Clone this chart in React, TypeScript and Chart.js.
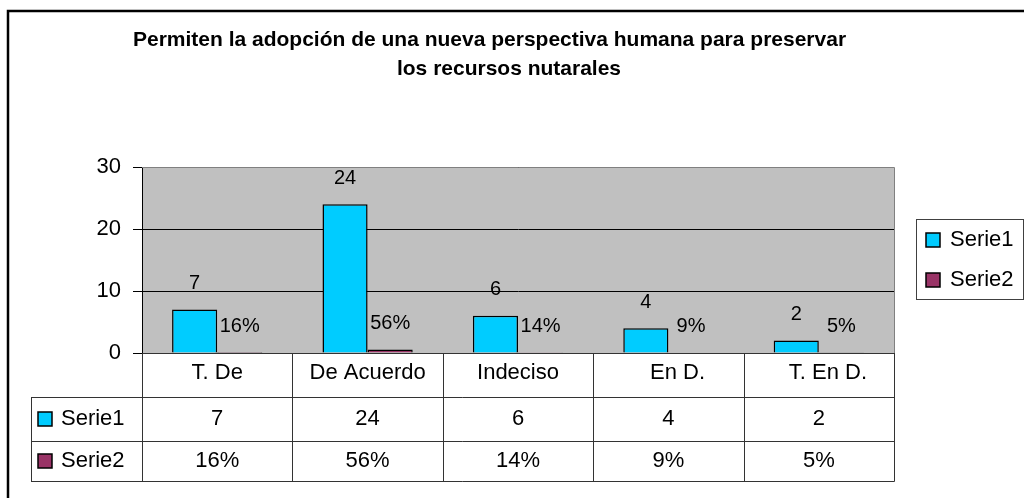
import React, { useEffect, useRef } from "react";
import { Chart, registerables } from "chart.js";

Chart.register(...registerables);

const categories = ["T. De", "De Acuerdo", "Indeciso", "   En D.", "   T. En D."];
const serie1 = [7, 24, 6, 4, 2];
const serie2 = [0.16, 0.56, 0.14, 0.09, 0.05];
const seriesNames = ["Serie1", "Serie2"];
const titleLines = [
  "Permiten la adopción de una nueva perspectiva humana para preservar",
  "los recursos nutarales",
];
const yMin = 0;
const yMax = 30;
const yStep = 10;

const COLORS = ["#00CCFF", "#993366"];
const FONT = '"Liberation Sans", Arial, sans-serif';

const pct = (v: number) => `${Math.round(v * 100)}%`;
const labelFor = (ds: number, i: number) => (ds === 0 ? String(serie1[i]) : pct(serie2[i]));

const decor = {
  id: "decor",
  beforeDraw(chart: any) {
    const { ctx, chartArea: a, width, height } = chart;
    ctx.save();
    ctx.fillStyle = "#ffffff";
    ctx.fillRect(0, 0, width, height);
    ctx.fillStyle = "#C0C0C0";
    ctx.fillRect(a.left, a.top, a.right - a.left, a.bottom - a.top);
    ctx.restore();
  },
  afterDatasetsDraw(chart: any) {
    const { ctx } = chart;
    ctx.save();
    ctx.font = `20px ${FONT}`;
    ctx.fillStyle = "#000";
    ctx.textAlign = "center";
    ctx.textBaseline = "middle";
    chart.data.datasets.forEach((_: any, d: number) => {
      const meta = chart.getDatasetMeta(d);
      meta.data.forEach((el: any, i: number) => {
        ctx.fillText(labelFor(d, i), el.x, el.y - 26);
      });
    });
    ctx.restore();
  },
  afterDraw(chart: any) {
    const { ctx, chartArea: a } = chart;
    ctx.save();
    // plot border (top & right)
    ctx.strokeStyle = "#808080";
    ctx.lineWidth = 1;
    ctx.beginPath();
    ctx.moveTo(a.left, a.top + 0.5);
    ctx.lineTo(a.right + 0.5, a.top + 0.5);
    ctx.lineTo(a.right + 0.5, a.bottom);
    ctx.stroke();

    // outer border
    ctx.strokeStyle = "#000";
    ctx.lineWidth = 2.5;
    ctx.strokeRect(8, 11, 1100, 600);

    // title
    ctx.fillStyle = "#000";
    ctx.font = `bold 21px ${FONT}`;
    ctx.textAlign = "center";
    ctx.textBaseline = "alphabetic";
    ctx.fillText(titleLines[0], 489.5, 45.5);
    ctx.fillText(titleLines[1], 509, 74.5);

    // legend
    ctx.fillStyle = "#fff";
    ctx.fillRect(916, 219, 107, 80);
    ctx.strokeStyle = "#404040";
    ctx.lineWidth = 1;
    ctx.strokeRect(916.5, 219.5, 107, 80);
    ctx.font = `22px ${FONT}`;
    ctx.textAlign = "left";
    ctx.textBaseline = "middle";
    seriesNames.forEach((n, i) => {
      const cy = 240 + i * 40;
      ctx.fillStyle = COLORS[i];
      ctx.fillRect(926, cy - 7, 14, 14);
      ctx.strokeStyle = "#000";
      ctx.lineWidth = 1.5;
      ctx.strokeRect(926, cy - 7, 14, 14);
      ctx.fillStyle = "#000";
      ctx.fillText(n, 950, cy);
    });

    // data table
    const n = categories.length;
    const colW = (a.right - a.left) / n;
    const rowTop = a.bottom;
    const r1 = rowTop + 44;
    const r2 = r1 + 44;
    const r3 = r2 + 40;
    const tableLeft = 31;
    ctx.strokeStyle = "#333";
    ctx.lineWidth = 1;
    ctx.beginPath();
    // horizontals
    [r1, r2, r3].forEach((y) => {
      ctx.moveTo(tableLeft, Math.round(y) + 0.5);
      ctx.lineTo(a.right + 0.5, Math.round(y) + 0.5);
    });
    ctx.moveTo(a.left, Math.round(rowTop) + 0.5);
    ctx.lineTo(a.right + 0.5, Math.round(rowTop) + 0.5);
    // verticals
    for (let i = 0; i <= n; i++) {
      const x = Math.round(a.left + i * colW) + 0.5;
      ctx.moveTo(x, rowTop);
      ctx.lineTo(x, Math.round(r3) + 0.5);
    }
    ctx.moveTo(tableLeft + 0.5, r1);
    ctx.lineTo(tableLeft + 0.5, Math.round(r3) + 0.5);
    ctx.stroke();

    ctx.font = `22px ${FONT}`;
    ctx.fillStyle = "#000";
    ctx.textAlign = "center";
    ctx.textBaseline = "middle";
    categories.forEach((c, i) => {
      const cx = a.left + (i + 0.5) * colW;
      ctx.fillText(c, cx, rowTop + 20);
      ctx.fillText(labelFor(0, i), cx, (r1 + r2) / 2);
      ctx.fillText(labelFor(1, i), cx, (r2 + r3) / 2);
    });
    ctx.textAlign = "left";
    seriesNames.forEach((nm, i) => {
      const cy = i === 0 ? (r1 + r2) / 2 : (r2 + r3) / 2;
      ctx.fillStyle = COLORS[i];
      ctx.fillRect(38, cy - 7, 14, 14);
      ctx.strokeStyle = "#000";
      ctx.lineWidth = 1.5;
      ctx.strokeRect(38, cy - 7, 14, 14);
      ctx.fillStyle = "#000";
      ctx.fillText(nm, 61, cy);
    });
    ctx.restore();
  },
};

export default function App() {
  const ref = useRef<HTMLCanvasElement>(null);
  useEffect(() => {
    const chart = new Chart(ref.current as HTMLCanvasElement, {
      type: "bar",
      data: {
        labels: categories,
        datasets: seriesNames.map((name, i) => ({
          label: name,
          data: i === 0 ? serie1 : serie2,
          backgroundColor: COLORS[i],
          borderColor: "#000",
          borderWidth: 1.5,
          categoryPercentage: 0.6,
          barPercentage: 1,
        })),
      },
      options: {
        responsive: false,
        animation: false,
        devicePixelRatio: 1,
        layout: { padding: { top: 167, right: 130, bottom: 145, left: 0 } },
        plugins: { legend: { display: false }, title: { display: false }, tooltip: { enabled: false } },
        scales: {
          x: { display: false },
          y: {
            min: yMin,
            max: yMax,
            ticks: { stepSize: yStep, color: "#000", font: { size: 22, family: FONT }, padding: 12 },
            grid: { color: "#000", lineWidth: 1, tickLength: 9, drawTicks: true },
            border: { color: "#000", width: 1 },
            afterFit(scale: any) {
              scale.width = 142;
            },
          },
        },
      },
      plugins: [decor],
    } as any);
    return () => chart.destroy();
  }, []);
  return (
    <div style={{ position: "absolute", left: 0, top: 0, width: 1024, height: 498 }}>
      <canvas ref={ref} width={1024} height={498} style={{ display: "block" }} />
    </div>
  );
}
